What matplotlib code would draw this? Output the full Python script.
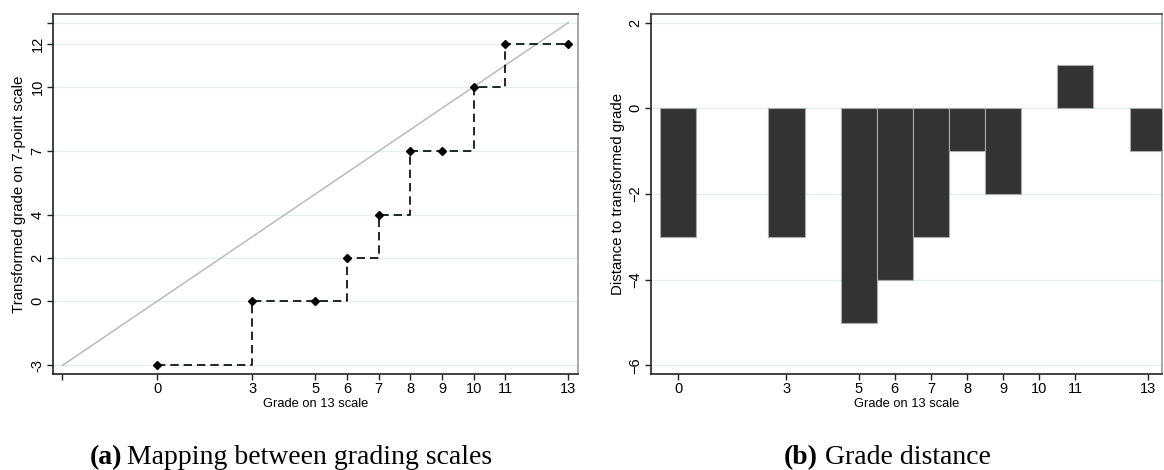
import numpy as np
import matplotlib
matplotlib.use('Agg')
import matplotlib.pyplot as plt

plt.rcParams['font.family'] = ['Liberation Sans', 'DejaVu Sans']

# data
grade13 = [0, 3, 5, 6, 7, 8, 9, 10, 11, 13]
grade7 = [-3, 0, 0, 2, 4, 7, 7, 10, 12, 12]
diff_grades = [0, 3, 5, 6, 7, 8, 9, 10, 11, 13]
diff_values = [-3, -3, -5, -4, -3, -1, -2, 0, 1, -1]
left_yticks = [-3, 0, 2, 4, 7, 10, 12]
right_yticks = [-6, -4, -2, 0, 2]

grid_col = '#e6eeee'
spine_dark = '#222222'

fig = plt.figure(figsize=(11.64, 4.70), dpi=100)

ax1 = fig.add_axes([0.0455, 0.2043, 0.451, 0.766])
ax1.plot([-3, 13], [-3, 13], color='#bbbbbb', lw=1.1, zorder=2)
ax1.step(grade13, grade7, where='post', color='black', ls=(0, (5, 3)), lw=1.2, zorder=3)
ax1.plot(grade13, grade7, ls='', marker='D', ms=4.5, color='black', zorder=4)
ax1.set_xlim(-3.3, 13.3)
ax1.set_ylim(-3.4, 13.4)
ax1.set_xticks([-3] + grade13)
ax1.set_xticklabels([''] + [str(g) for g in grade13])
ax1.set_yticks(left_yticks + [13])
ax1.set_yticklabels([str(v) for v in left_yticks] + [''])
for v in left_yticks + [13]:
    ax1.axhline(v, color=grid_col, lw=1, zorder=1)
ax1.set_xlabel('Grade on 13 scale', fontsize=9.3, labelpad=1)
ax1.set_ylabel('Transformed grade on 7-point scale', fontsize=10.8, labelpad=3)

ax2 = fig.add_axes([0.5593, 0.2043, 0.439, 0.766])
edges = ['#aaaaaa' if v != 0 else 'none' for v in diff_values]
ax2.bar(diff_grades, diff_values, width=1, color='#333333', edgecolor=edges, lw=0.8, zorder=3)
ax2.set_xlim(-0.75, 13.4)
ax2.set_ylim(-6.2, 2.2)
ax2.set_xticks(diff_grades)
ax2.set_yticks(right_yticks)
for v in right_yticks:
    ax2.axhline(v, color=grid_col, lw=1, zorder=1)
ax2.set_xlabel('Grade on 13 scale', fontsize=9.3, labelpad=1)
ax2.set_ylabel('Distance to transformed grade', fontsize=10.8, labelpad=3)

for ax in (ax1, ax2):
    ax.tick_params(axis='both', labelsize=10.5, length=4, width=1, color=spine_dark, pad=2)
    for lab in ax.get_yticklabels():
        lab.set_rotation(90)
        lab.set_va('center')
    ax.spines['left'].set_color(spine_dark)
    ax.spines['bottom'].set_color(spine_dark)
    ax.spines['top'].set_color('#444444')
    ax.spines['right'].set_color('#999999')
    for s in ax.spines.values():
        s.set_linewidth(1.2)

cap = dict(fontsize=20, family='Liberation Serif', va='baseline')
fig.text(0.1048, 0.012, '(a)', ha='right', fontweight='bold', **cap)
fig.text(0.1091, 0.012, 'Mapping between grading scales', ha='left', **cap)
fig.text(0.7027, 0.012, '(b)', ha='right', fontweight='bold', **cap)
fig.text(0.7088, 0.012, 'Grade distance', ha='left', **cap)

fig.savefig('out.png', dpi=100)
